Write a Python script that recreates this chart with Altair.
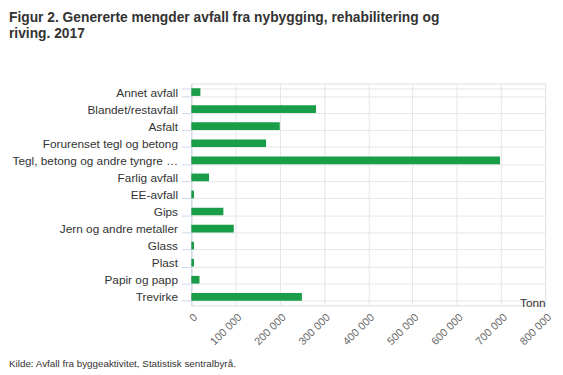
import altair as alt
import pandas as pd

categories = [
    "Annet avfall",
    "Blandet/restavfall",
    "Asfalt",
    "Forurenset tegl og betong",
    "Tegl, betong og andre tyngre …",
    "Farlig avfall",
    "EE-avfall",
    "Gips",
    "Jern og andre metaller",
    "Glass",
    "Plast",
    "Papir og papp",
    "Trevirke",
]
tonn = [20500, 282000, 200000, 169000, 698000, 40000, 6000, 72500, 96000, 6000, 6000, 18500, 250000]
x_ticks = [0, 100000, 200000, 300000, 400000, 500000, 600000, 700000, 800000]

title_lines = [
    "Figur 2. Genererte mengder avfall fra nybygging, rehabilitering og",
    "riving. 2017",
]
source_text = "Kilde: Avfall fra byggeaktivitet, Statistisk sentralbyrå."

FONT = "Liberation Sans"
W, H = 359, 225

df = pd.DataFrame({"kategori": categories, "tonn": tonn})

bars = alt.Chart(df).mark_bar(color="#1a9d49").encode(
    x=alt.X(
        "tonn:Q",
        scale=alt.Scale(domain=[0, 800000], nice=False),
        axis=alt.Axis(
            values=x_ticks,
            labelExpr="replace(format(datum.value, ','), /,/g, ' ')",
            labelAngle=-45,
            labelAlign="right",
            labelBaseline="top",
            labelPadding=6,
            labelFontSize=11,
            labelColor="#666666",
            labelFont=FONT,
            domain=False,
            ticks=False,
            grid=True,
            gridColor="#e6e6e6",
            title="Tonn",
            titleX=W,
            titleY=1,
            titleAlign="right",
            titleAnchor="end",
            titleBaseline="alphabetic",
            titleFont=FONT,
            titleFontSize=12,
            titleFontWeight="normal",
            titleColor="#333333",
        ),
    ),
    y=alt.Y(
        "kategori:N",
        sort=categories,
        scale=alt.Scale(paddingInner=0.55, paddingOuter=0.275),
        axis=alt.Axis(
            title=None,
            tickBand="extent",
            grid=True,
            gridColor="#e6e6e6",
            ticks=True,
            tickSize=10,
            tickColor="#ccd6eb",
            domainColor="#ccd6eb",
            labelPadding=4,
            labelFont=FONT,
            labelFontSize=12,
            labelColor="#333333",
            labelLimit=300,
        ),
    ),
)

one = alt.Data(values=[{}])

t1 = alt.Chart(one).mark_text(
    text=title_lines[0], align="left", baseline="alphabetic",
    font=FONT, fontSize=14, fontWeight="bold", color="#333333",
).encode(x=alt.value(-185), y=alt.value(-62))

t2 = alt.Chart(one).mark_text(
    text=title_lines[1], align="left", baseline="alphabetic",
    font=FONT, fontSize=14, fontWeight="bold", color="#333333",
).encode(x=alt.value(-185), y=alt.value(-46))

src = alt.Chart(one).mark_text(
    text=source_text, align="left", baseline="alphabetic",
    font=FONT, fontSize=10, color="#333333",
).encode(x=alt.value(-185), y=alt.value(288))

chart = alt.layer(bars, t1, t2, src).properties(
    width=W,
    height=H,
    autosize=alt.AutoSizeParams(type="none"),
    padding={"left": 186, "top": 74, "right": 10, "bottom": 66},
).configure_view(stroke=None).configure(background="white")

chart.save("out.html", embed_options={"renderer": "svg", "actions": False})
